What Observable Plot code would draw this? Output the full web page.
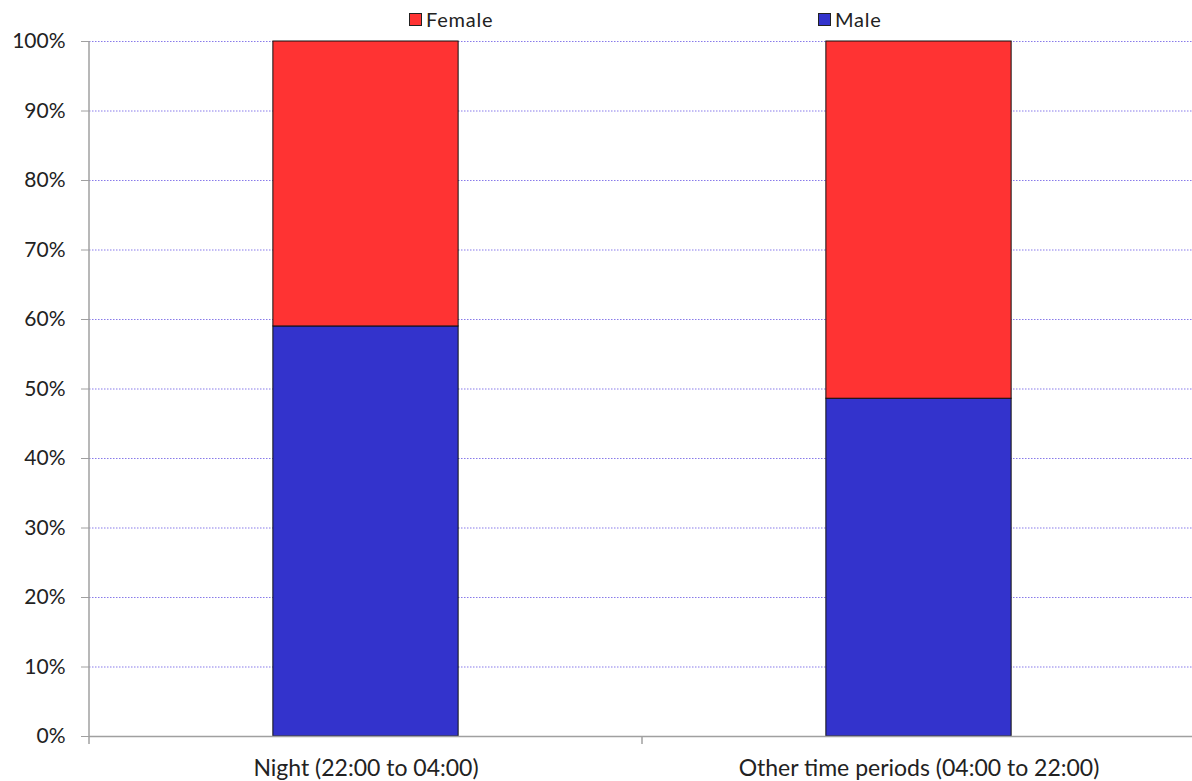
<!DOCTYPE html>
<html><head><meta charset="utf-8">
<script src="https://cdn.jsdelivr.net/npm/d3@7"></script>
<script src="https://cdn.jsdelivr.net/npm/@observablehq/plot@0.6"></script>
<style>
body{margin:0;background:#fff;font-family:Lato,"Noto Sans",sans-serif;color:#222;overflow:hidden;}
#wrap{position:relative;width:1192px;height:781px;overflow:hidden;}
#legend{position:absolute;left:0;top:0;width:1192px;height:30px;font-size:20px;letter-spacing:0.8px;z-index:2;}
.li{position:absolute;top:7px;display:flex;align-items:center;}
.sw{width:11px;height:11px;border:1px solid #222;margin-right:4px;}
</style></head>
<body><div id="wrap"><div id="legend"></div><div id="chart"></div></div>
<script>
const categories = ["Night (22:00 to 04:00)", "Other time periods (04:00 to 22:00)"];
const series = ["Male", "Female"];
const maleShare = [59.0, 48.6];
const femaleShare = [41.0, 51.4];
const yTicks = [0,10,20,30,40,50,60,70,80,90,100];
const colors = {Male:"#3333cc", Female:"#ff3333"};
const legendItems = [{name:"Female", left:409},{name:"Male", left:818}];

const data = [];
categories.forEach((c,i)=>{
  data.push({cat:c, series:"Male", value:maleShare[i]});
  data.push({cat:c, series:"Female", value:femaleShare[i]});
});

const W = 1192, H = 781, ML = 89, MR = -3, MT = 41, MB = 45;
const chart = Plot.plot({
  width: W, height: H,
  marginLeft: ML, marginRight: MR, marginTop: MT, marginBottom: MB,
  style: {fontFamily: "Lato, 'Noto Sans', sans-serif", fontSize: "21px", color: "#222", background: "#fff", overflow: "visible"},
  x: {domain: categories, paddingInner: 0.665, paddingOuter: 0.3325, align: 0.5, round: false, label: null},
  y: {domain: [0,100], label: null},
  color: {domain: series, range: [colors.Male, colors.Female]},
  marks: [
    Plot.ruleY(yTicks, {stroke: "#7b6be8", strokeWidth: 1, strokeDasharray: "1.5,1.5", strokeOpacity: 0.9}),
    Plot.barY(data, Plot.stackY({order: series}, {x: "cat", y: "value", fill: "series", stroke: "#111", strokeWidth: 1})),
    Plot.axisY(yTicks, {tickSize: 8, tickPadding: 16, tickFormat: d => d + "%", stroke: "#a0a0a0", fill: "#222", fontSize: 21}),
    Plot.axisX({tickSize: 0, tickPadding: 23, fill: "#222", fontSize: 23}),
    Plot.ruleY([0], {stroke: "#a0a0a0", strokeWidth: 1.5})
  ]
});
document.getElementById("chart").appendChild(chart);

// y-axis line and band separators, positioned from the scales
const xs = chart.scale("x"), ys = chart.scale("y");
const svg = d3.select(chart);
const y0 = ys.apply(0), y100 = ys.apply(100);
const g = svg.append("g").attr("stroke", "#a0a0a0").attr("stroke-width", 1.5);
g.append("line").attr("x1", ML).attr("x2", ML).attr("y1", y100).attr("y2", y0 + 8);
categories.slice(0, -1).forEach(c => {
  const xb = xs.apply(c) + xs.bandwidth + (xs.step - xs.bandwidth) / 2;
  g.append("line").attr("x1", xb).attr("x2", xb).attr("y1", y0).attr("y2", y0 + 8);
});

const leg = d3.select("#legend");
legendItems.forEach(it => {
  const d = leg.append("div").attr("class", "li").style("left", it.left + "px");
  d.append("div").attr("class", "sw").style("background", colors[it.name]);
  d.append("span").text(it.name);
});
</script></body></html>
